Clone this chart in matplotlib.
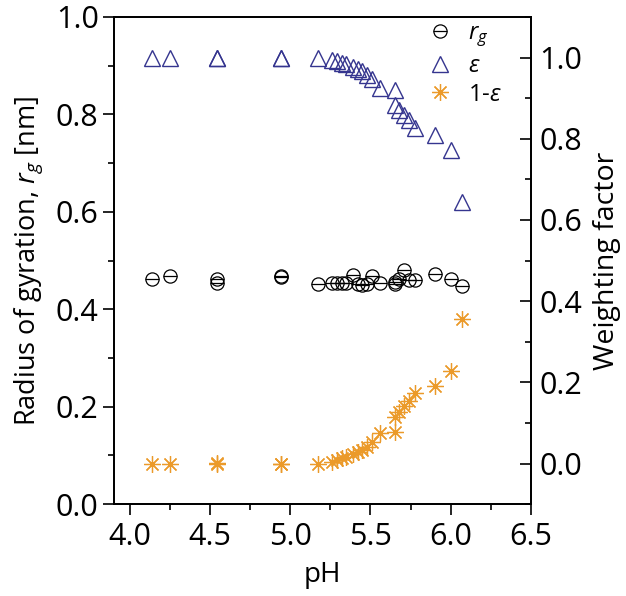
import matplotlib
matplotlib.use('Agg')
import matplotlib.pyplot as plt
from matplotlib.ticker import MultipleLocator

# 字体设置
plt.rcParams['font.family'] = ['Open Sans', 'DejaVu Sans']
plt.rcParams['mathtext.fontset'] = 'custom'
plt.rcParams['mathtext.rm'] = 'Open Sans'
plt.rcParams['mathtext.it'] = 'Open Sans:italic'

# 数据
ph = [4.14, 4.25, 4.54, 4.54, 4.94, 4.94, 5.17, 5.26, 5.29, 5.32, 5.35, 5.39, 5.42,
      5.45, 5.48, 5.51, 5.56, 5.65, 5.65, 5.68, 5.71, 5.74, 5.78, 5.90, 6.00, 6.07]
rg = [0.463, 0.468, 0.463, 0.454, 0.468, 0.467, 0.453, 0.455, 0.455, 0.455, 0.455, 0.470, 0.453,
      0.450, 0.452, 0.469, 0.455, 0.453, 0.457, 0.462, 0.480, 0.461, 0.461, 0.472, 0.463, 0.448]
eps = [1.0, 1.0, 1.0, 0.998, 1.0, 1.0, 1.0, 0.995, 0.991, 0.987, 0.983, 0.977, 0.972,
       0.966, 0.958, 0.947, 0.925, 0.921, 0.884, 0.872, 0.859, 0.847, 0.826, 0.810, 0.773, 0.644]
one_minus_eps = [0.0, 0.0, 0.0, 0.002, 0.0, 0.0, 0.0, 0.005, 0.009, 0.013, 0.017, 0.023, 0.028,
                 0.034, 0.042, 0.053, 0.075, 0.079, 0.116, 0.128, 0.141, 0.153, 0.174, 0.190, 0.227, 0.356]

navy = '#35358f'
orange = '#eb9a2a'

fig = plt.figure(figsize=(6.26, 5.96), dpi=100)
ax = fig.add_axes([0.182, 0.154, 0.666, 0.8175])
ax2 = ax.twinx()

# r_g: 圆圈加横线
c1, = ax.plot(ph, rg, 'o', ls='none', ms=9.5, mfc='none', mec='black', mew=0.9)
c2, = ax.plot(ph, rg, '_', ls='none', ms=9.5, mec='black', mew=0.9)

t1, = ax2.plot(ph, eps, '^', ls='none', ms=12, mfc='none', mec=navy, mew=1.0)
s1, = ax2.plot(ph, one_minus_eps, marker=(8, 2, 0), ls='none', ms=12, mec=orange, mew=0.9)

ax.set_xlim(3.9, 6.5)
ax.set_ylim(0, 1.0)
ax2.set_ylim(-0.1, 1.1)

ax.xaxis.set_major_locator(MultipleLocator(0.5))
ax.xaxis.set_minor_locator(MultipleLocator(0.25))
ax.yaxis.set_major_locator(MultipleLocator(0.2))
ax.yaxis.set_minor_locator(MultipleLocator(0.1))
ax2.set_yticks([0.0, 0.2, 0.4, 0.6, 0.8, 1.0])
ax2.yaxis.set_minor_locator(MultipleLocator(0.1))
ax.xaxis.set_major_formatter(plt.FormatStrFormatter('%.1f'))
ax.yaxis.set_major_formatter(plt.FormatStrFormatter('%.1f'))
ax2.yaxis.set_major_formatter(plt.FormatStrFormatter('%.1f'))

ax.tick_params(axis='both', which='major', direction='out', length=8, width=1.2, labelsize=22, pad=3)
ax.tick_params(axis='both', which='minor', direction='out', length=4, width=1.2)
ax.tick_params(axis='x', pad=5)
ax.tick_params(top=False, right=False)
ax2.tick_params(axis='y', which='major', direction='in', length=8, width=1.2, labelsize=22, pad=6)
ax2.tick_params(axis='y', which='minor', direction='in', length=4, width=1.2)

for a in (ax, ax2):
    for sp in a.spines.values():
        sp.set_linewidth(1.3)

ax.set_xlabel('pH', fontsize=20, labelpad=6)
ax.set_ylabel('Radius of gyration, $r_g$ [nm]', fontsize=19.5, labelpad=8)
ax2.set_ylabel('Weighting factor', fontsize=20.5, labelpad=8)

ax2.legend([(c1, c2), t1, s1], ['$r_g$', r'$\varepsilon$', r'1-$\varepsilon$'],
           loc='upper right', bbox_to_anchor=(0.965, 1.02), frameon=False, fontsize=17,
           handletextpad=0.6, borderaxespad=0.2, labelspacing=0.2, handlelength=1.2)

plt.savefig('out.png', dpi=100)
